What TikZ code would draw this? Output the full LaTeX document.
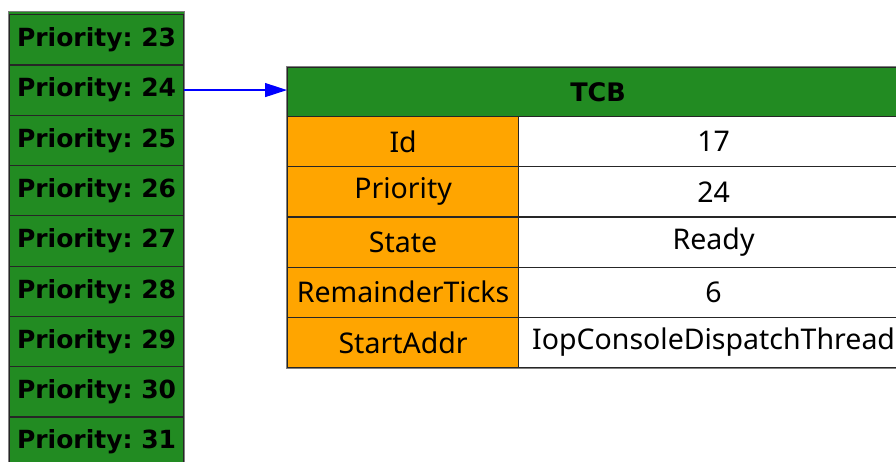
\documentclass[tikz,border=0pt]{standalone}
\usepackage{fontspec}
\setmainfont{Noto Sans}
\newfontfamily\boldfont{DejaVu Sans}
\usetikzlibrary{positioning, arrows.meta}

\definecolor{cellgreen}{HTML}{228B22}
\definecolor{cellorange}{HTML}{FFA500}

\begin{document}
\frenchspacing
\begin{tikzpicture}[x=1pt, y=-1pt,
        prio/.style={rectangle, draw=black!85, line width=1.2pt, fill=cellgreen, minimum width=174pt, minimum height=50.3pt, inner sep=0pt, anchor=north west, font=\fontsize{25}{28}\selectfont\boldfont\bfseries},
        head/.style={rectangle, draw=black!85, line width=1.2pt, fill=cellgreen, minimum width=621pt, minimum height=49pt, inner sep=0pt, anchor=north west, font=\fontsize{25.5}{28}\selectfont\boldfont\bfseries},
        field/.style={rectangle, draw=black!85, line width=1.2pt, fill=cellorange, minimum width=231pt, minimum height=50.2pt, inner sep=0pt, anchor=north west, font=\fontsize{28.5}{32}\selectfont},
        value/.style={rectangle, draw=black!85, line width=1.2pt, fill=white, minimum width=390pt, minimum height=50.2pt, inner sep=0pt, anchor=north west, font=\fontsize{28.5}{32}\selectfont},
        link/.style={draw=blue, line width=1.2pt, -{Triangle[length=22pt, width=14pt]}}
    ]
        \clip (0,0) rectangle (896,461);

        % Priority list (outer frame, then one cell per level)
        \draw[fill=cellgreen, draw=gray, line width=1pt] (8,11) rectangle (184,480);
        \foreach \i/\p in {0/23, 1/24, 2/25, 3/26, 4/27, 5/28, 6/29, 7/30, 8/31} {
            \node[prio] (p\p) at (9, 14 + \i*50.3) {Priority: \p};
        }

        % TCB table
        \draw[draw=gray, line width=1pt] (286,66) rectangle (912,368);
        \node[head] (tcb) at (287,67) {TCB};
        \foreach \i/\k/\v in {0/Id/17, 1/Priority/24, 2/State/Ready, 3/RemainderTicks/6, 4/StartAddr/IopConsoleDispatchThread} {
            \node[field] (k\i) at (287, 116 + \i*50.2) {\k};
            \node[value] (v\i) at (518, 116 + \i*50.2) {\v};
        }

        % Pointer from ready list to the TCB
        \draw[link] (p24.east) -- (p24.east -| tcb.west);

    \end{tikzpicture}
\end{document}
